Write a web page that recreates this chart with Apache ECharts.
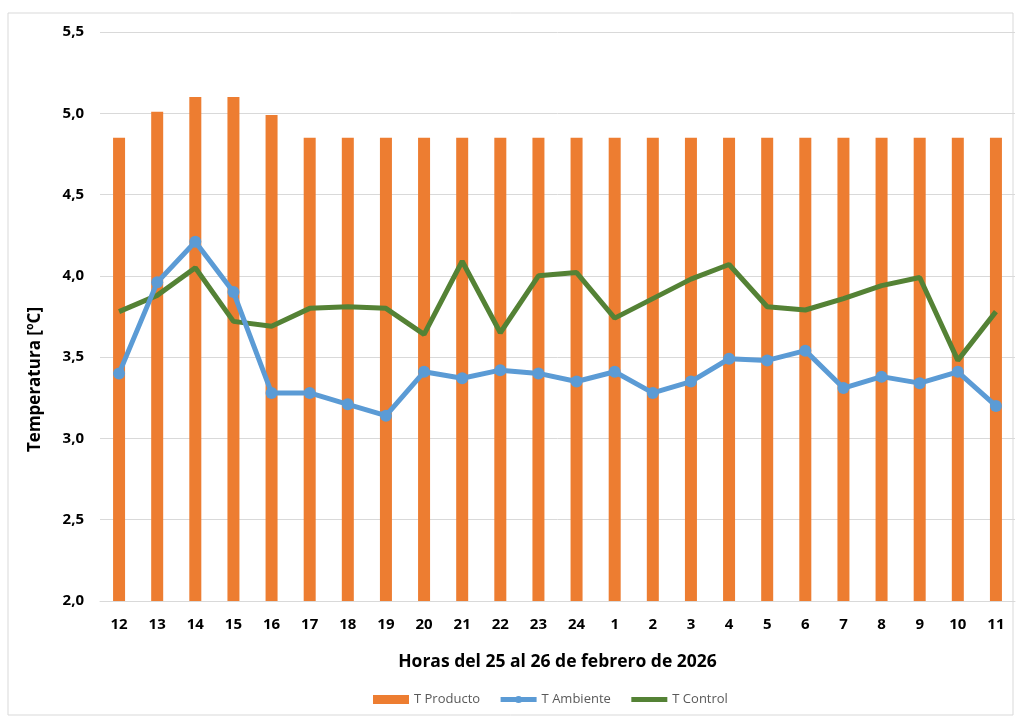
<!DOCTYPE html>
<html>
<head>
<meta charset="utf-8">
<script src="https://cdn.jsdelivr.net/npm/echarts@6/dist/echarts.min.js"></script>
<style>
  html, body { margin: 0; padding: 0; background: #fff; }
  #chart { width: 1021px; height: 722px; }
</style>
</head>
<body>
<div id="chart"></div>
<script>
const horas = ["12", "13", "14", "15", "16", "17", "18", "19", "20", "21", "22", "23", "24",
  "1", "2", "3", "4", "5", "6", "7", "8", "9", "10", "11"];
const tProducto = [4.85, 5.01, 5.1, 5.1, 4.99, 4.85, 4.85, 4.85, 4.85, 4.85, 4.85, 4.85, 4.85,
  4.85, 4.85, 4.85, 4.85, 4.85, 4.85, 4.85, 4.85, 4.85, 4.85, 4.85];
const tAmbiente = [3.40, 3.96, 4.21, 3.90, 3.28, 3.28, 3.21, 3.14, 3.41, 3.37, 3.42, 3.40, 3.35,
  3.41, 3.28, 3.35, 3.49, 3.48, 3.54, 3.31, 3.38, 3.34, 3.41, 3.20];
const tControl = [3.78, 3.88, 4.05, 3.72, 3.69, 3.80, 3.81, 3.80, 3.64, 4.09, 3.65, 4.00, 4.02,
  3.74, 3.86, 3.98, 4.07, 3.81, 3.79, 3.86, 3.94, 3.99, 3.48, 3.78];

const chart = echarts.init(document.getElementById("chart"));
const fontFam = "'Open Sans', 'Liberation Sans', sans-serif";

chart.setOption({
  animation: false,
  textStyle: { fontFamily: fontFam },
  graphic: [{
    type: "rect",
    shape: { x: 8, y: 13, width: 1005, height: 702 },
    style: { fill: "none", stroke: "#d9d9d9", lineWidth: 1 },
    silent: true
  }],
  grid: { left: 100, right: 6, top: 32, bottom: 121 },
  legend: {
    top: 688,
    left: 368,
    itemWidth: 36,
    itemHeight: 9,
    itemGap: 18,
    textStyle: { color: "#595959", fontSize: 13, fontFamily: fontFam },
    lineStyle: { width: 5 },
    data: [
      { name: "T Producto", icon: "rect" },
      { name: "T Ambiente" },
      { name: "T Control", itemStyle: { opacity: 0 } }
    ]
  },
  xAxis: {
    type: "category",
    data: horas,
    name: "Horas del 25 al 26 de febrero de 2026",
    nameLocation: "middle",
    nameGap: 52,
    nameTextStyle: { fontSize: 17.5, fontWeight: "bold", color: "#000", fontFamily: fontFam },
    axisLine: { lineStyle: { color: "#d9d9d9" } },
    axisTick: { show: false },
    axisLabel: { fontSize: 15, fontWeight: "bold", color: "#000", margin: 16 }
  },
  yAxis: {
    type: "value",
    min: 2,
    max: 5.5,
    interval: 0.5,
    name: "Temperatura [ºC]",
    nameLocation: "middle",
    nameGap: 56,
    nameTextStyle: {
      fontSize: 17, fontWeight: "bold", color: "#000", fontFamily: fontFam,
      padding: [0, 126, 0, 0]
    },
    axisLabel: {
      fontSize: 15, fontWeight: "bold", color: "#000", margin: 16,
      formatter: v => v.toFixed(1).replace(".", ",")
    },
    splitLine: { lineStyle: { color: "#d9d9d9" } }
  },
  series: [
    {
      name: "T Producto",
      type: "bar",
      data: tProducto,
      barWidth: 12,
      itemStyle: { color: "#ed7d31" }
    },
    {
      name: "T Ambiente",
      type: "line",
      data: tAmbiente,
      symbol: "circle",
      symbolSize: 12,
      lineStyle: { width: 5, color: "#5b9bd5" },
      itemStyle: { color: "#5b9bd5" },
      z: 4
    },
    {
      name: "T Control",
      type: "line",
      data: tControl,
      symbol: "none",
      lineStyle: { width: 5, color: "#548235" },
      itemStyle: { color: "#548235" },
      z: 3
    }
  ]
});
</script>
</body>
</html>
